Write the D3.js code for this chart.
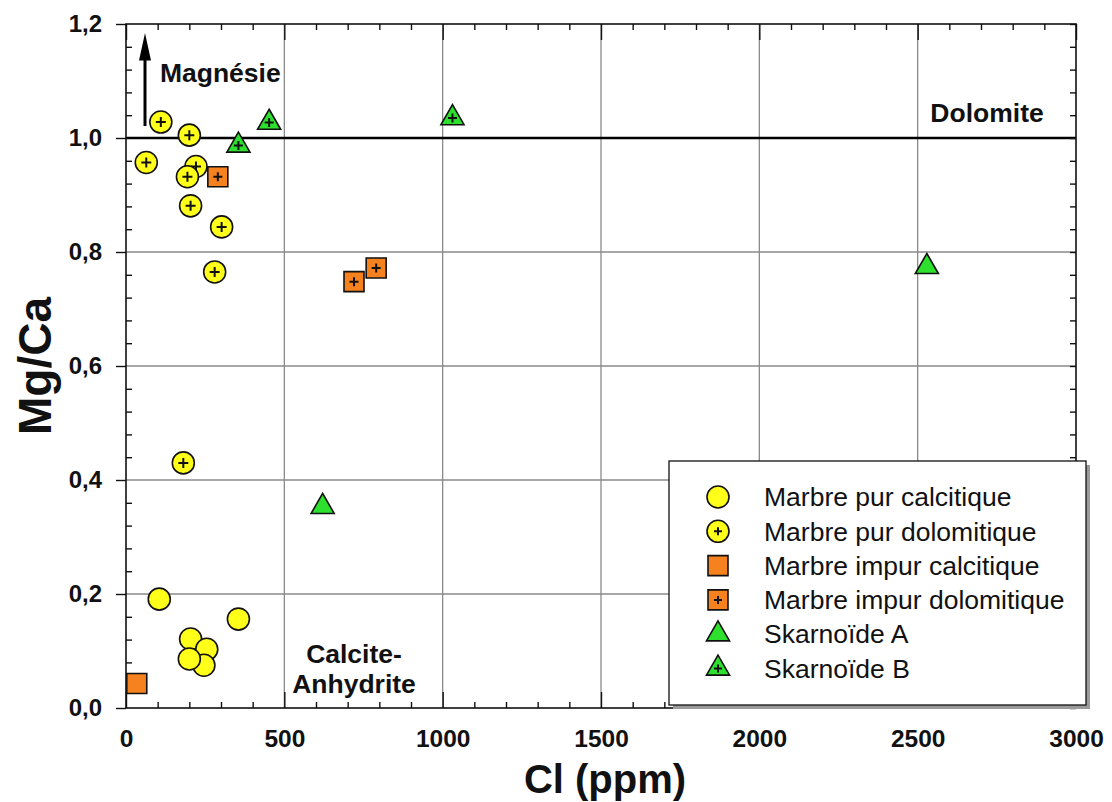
<!DOCTYPE html>
<html>
<head>
<meta charset="utf-8">
<script src="https://cdn.jsdelivr.net/npm/d3@7/dist/d3.min.js"></script>
<style>
  body { margin: 0; background: #fff; }
  svg text { font-family: 'Liberation Sans', Arial, Helvetica, sans-serif; fill: #111; }
</style>
</head>
<body>
<div id="chart"></div>
<script>
// Data
const pureCalcX = [105, 204, 255, 246, 200, 355];
const pureCalcY = [0.191, 0.121, 0.103, 0.075, 0.086, 0.156];

const pureDoloX = [110, 200, 64, 221, 194, 204, 302, 280, 181];
const pureDoloY = [1.028, 1.005, 0.957, 0.950, 0.932, 0.881, 0.844, 0.765, 0.430];

const impureCalcX = [34];
const impureCalcY = [0.043];

const impureDoloX = [290, 720, 790];
const impureDoloY = [0.932, 0.748, 0.772];

const skarnAX = [621, 2529];
const skarnAY = [0.353, 0.774];

const skarnBX = [355, 452, 1031];
const skarnBY = [0.987, 1.027, 1.035];

const seriesNames = ['Marbre pur calcitique', 'Marbre pur dolomitique', 'Marbre impur calcitique',
                     'Marbre impur dolomitique', 'Skarnoïde A', 'Skarnoïde B'];

const xTicks = [0, 500, 1000, 1500, 2000, 2500, 3000];
const yTicks = [0, 0.2, 0.4, 0.6, 0.8, 1.0, 1.2];

// Constants
const width = 1112;
const height = 802;
const plot = {left: 126, right: 1076, top: 24, bottom: 708};
const yellow = '#ffff1a';
const orange = '#f5821f';
const green = '#2ee02e';
const gridColor = '#8a8a8a';

const xScale = d3.scaleLinear().domain([0, 3000]).range([plot.left, plot.right]);
const yScale = d3.scaleLinear().domain([0, 1.2]).range([plot.bottom, plot.top]);
const commaFormat = v => d3.format('.1f')(v).replace('.', ',');

const circlePath = d3.symbol().type(d3.symbolCircle).size(Math.PI * 11 * 11)();
const squarePath = d3.symbol().type(d3.symbolSquare).size(20 * 20)();
const trianglePath = d3.symbol().type(d3.symbolTriangle).size(231)();

const series = [
    {name: seriesNames[0], xs: pureCalcX, ys: pureCalcY, path: circlePath, fill: yellow, plus: false},
    {name: seriesNames[1], xs: pureDoloX, ys: pureDoloY, path: circlePath, fill: yellow, plus: true},
    {name: seriesNames[2], xs: impureCalcX, ys: impureCalcY, path: squarePath, fill: orange, plus: false},
    {name: seriesNames[3], xs: impureDoloX, ys: impureDoloY, path: squarePath, fill: orange, plus: true},
    {name: seriesNames[4], xs: skarnAX, ys: skarnAY, path: trianglePath, fill: green, plus: false},
    {name: seriesNames[5], xs: skarnBX, ys: skarnBY, path: trianglePath, fill: green, plus: true}
];

const drawMarker = (sel, s, plusSize) => {
    sel.append('path')
        .attr('d', s.path)
        .attr('fill', s.fill)
        .attr('stroke', '#111')
        .attr('stroke-width', 1.6);
    if (s.plus) {
        sel.append('path')
            .attr('d', `M${-plusSize},0H${plusSize}M0,${-plusSize}V${plusSize}`)
            .attr('stroke', '#111')
            .attr('stroke-width', 2);
    }
};

document.addEventListener('DOMContentLoaded', function () {
    const svg = d3.select('#chart')
        .append('svg')
            .attr('width', width)
            .attr('height', height);

    // Grid
    const grid = svg.append('g');
    grid.selectAll('.vgrid')
        .data(xTicks.slice(1, -1))
        .enter()
        .append('line')
            .attr('x1', d => xScale(d)).attr('x2', d => xScale(d))
            .attr('y1', plot.top).attr('y2', plot.bottom)
            .attr('stroke', gridColor).attr('stroke-width', 1.3);
    grid.selectAll('.hgrid')
        .data(yTicks.slice(1, 5))
        .enter()
        .append('line')
            .attr('x1', plot.left).attr('x2', plot.right)
            .attr('y1', d => yScale(d)).attr('y2', d => yScale(d))
            .attr('stroke', gridColor).attr('stroke-width', 1.3);

    // Dolomite line
    svg.append('line')
        .attr('x1', plot.left).attr('x2', plot.right)
        .attr('y1', yScale(1.0)).attr('y2', yScale(1.0))
        .attr('stroke', '#000').attr('stroke-width', 2.6);

    // Axes
    const xMinor = d3.range(0, 3001, 100).filter(v => v % 500 !== 0);
    const yMinor = d3.range(0, 1.201, 0.04).filter(v => Math.abs(v / 0.2 - Math.round(v / 0.2)) > 0.01);

    const styleAxis = g => {
        g.select('.domain').remove();
        g.selectAll('.tick line').attr('stroke', '#111').attr('stroke-width', 1.4);
    };

    svg.append('g')
        .attr('transform', `translate(0,${plot.bottom})`)
        .call(d3.axisBottom(xScale).tickValues(xMinor).tickSizeInner(-6).tickFormat(''))
        .call(styleAxis);
    svg.append('g')
        .attr('transform', `translate(0,${plot.top})`)
        .call(d3.axisTop(xScale).tickValues(xMinor).tickSizeInner(-6).tickFormat(''))
        .call(styleAxis);
    svg.append('g')
        .attr('transform', `translate(0,${plot.top})`)
        .call(d3.axisTop(xScale).tickValues(xTicks).tickSizeInner(-16).tickFormat(''))
        .call(styleAxis);

    const xAxis = svg.append('g')
        .attr('transform', `translate(0,${plot.bottom})`)
        .call(d3.axisBottom(xScale).tickValues(xTicks).tickSizeInner(-16).tickPadding(22).tickFormat(d3.format('d')))
        .call(styleAxis);
    xAxis.selectAll('text')
        .style('font-size', '24.5px')
        .style('font-weight', 'bold');

    svg.append('g')
        .attr('transform', `translate(${plot.left},0)`)
        .call(d3.axisLeft(yScale).tickValues(yMinor).tickSizeInner(-6).tickFormat(''))
        .call(styleAxis);
    svg.append('g')
        .attr('transform', `translate(${plot.right},0)`)
        .call(d3.axisRight(yScale).tickValues(yMinor.concat(yTicks)).tickSizeInner(-6).tickFormat(''))
        .call(styleAxis);
    const yAxis = svg.append('g')
        .attr('transform', `translate(${plot.left},0)`)
        .call(d3.axisLeft(yScale).tickValues(yTicks).tickSizeInner(10).tickPadding(14).tickFormat(commaFormat))
        .call(styleAxis);
    yAxis.selectAll('text')
        .style('font-size', '24px')
        .style('font-weight', 'bold');

    // Frame
    svg.append('rect')
        .attr('x', plot.left).attr('y', plot.top)
        .attr('width', plot.right - plot.left).attr('height', plot.bottom - plot.top)
        .attr('fill', 'none').attr('stroke', '#111').attr('stroke-width', 1.6);

    // Axis titles
    svg.append('text')
        .attr('x', (plot.left + plot.right) / 2 + 4)
        .attr('y', 793)
        .attr('text-anchor', 'middle')
        .style('font-size', '40px')
        .style('font-weight', 'bold')
        .text('Cl (ppm)');
    svg.append('text')
        .attr('transform', `translate(51,${(plot.top + plot.bottom) / 2}) rotate(-90)`)
        .attr('text-anchor', 'middle')
        .style('font-size', '46px')
        .style('font-weight', 'bold')
        .text('Mg/Ca');

    // Annotations
    svg.append('line')
        .attr('x1', xScale(60)).attr('x2', xScale(60))
        .attr('y1', yScale(1.021)).attr('y2', yScale(1.15))
        .attr('stroke', '#000').attr('stroke-width', 3);
    svg.append('path')
        .attr('d', `M${xScale(60)},${yScale(1.184)}L${xScale(60) - 6},${yScale(1.136)}L${xScale(60) + 6},${yScale(1.136)}Z`)
        .attr('fill', '#000');
    const note = (x, y, txt, anchor) => svg.append('text')
        .attr('x', xScale(x)).attr('y', yScale(y))
        .attr('text-anchor', anchor)
        .style('font-size', '26.5px')
        .style('font-weight', 'bold')
        .text(txt);
    note(107, 1.098, 'Magnésie', 'start');
    note(2719, 1.028, 'Dolomite', 'middle');
    note(720, 0.079, 'Calcite-', 'middle');
    note(720, 0.026, 'Anhydrite', 'middle');

    // Points
    series.forEach(s => {
        const pts = svg.append('g').selectAll('g')
            .data(s.xs.map((x, i) => ({x: x, y: s.ys[i]})))
            .enter()
            .append('g')
                .attr('transform', d => `translate(${xScale(d.x)},${yScale(d.y)})`);
        pts.each(function () { drawMarker(d3.select(this), s, s.path === circlePath ? 5 : 4.5); });
    });

    // Legend
    const legend = svg.append('g');
    legend.append('rect')
        .attr('x', 673).attr('y', 465).attr('width', 417).attr('height', 244)
        .attr('fill', '#9a9a9a');
    legend.append('rect')
        .attr('x', 669).attr('y', 461).attr('width', 417).attr('height', 244)
        .attr('fill', '#fff').attr('stroke', '#111').attr('stroke-width', 1.3);
    series.forEach((s, i) => {
        const row = legend.append('g')
            .attr('transform', `translate(718,${497 + i * 34.3})`);
        drawMarker(row, s, 4);
        row.append('text')
            .attr('x', 46)
            .attr('dy', '0.35em')
            .style('font-size', '26.5px')
            .text(s.name);
    });
});
</script>
</body>
</html>
